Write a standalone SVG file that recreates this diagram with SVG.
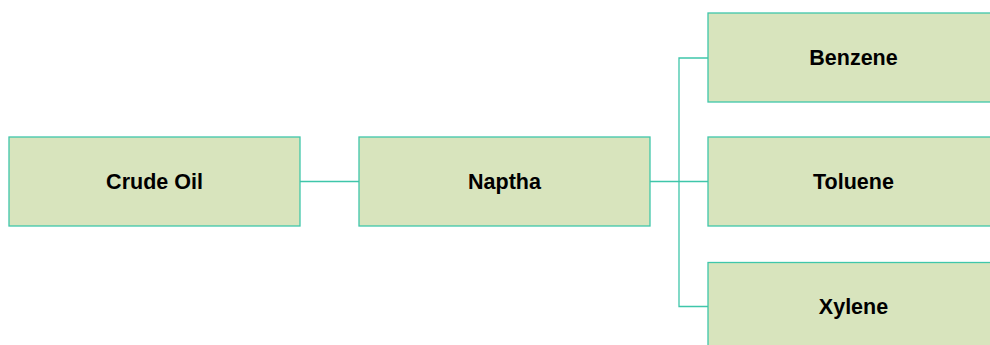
<svg xmlns="http://www.w3.org/2000/svg" width="990" height="345" viewBox="0 0 990 345">
<style>
.box{fill:#d8e4bd;stroke:#3fc6aa;stroke-width:1.3}
.lbl{font-family:"Liberation Sans",Arial,sans-serif;font-weight:bold;font-size:21.5px;fill:#000;text-anchor:middle}
.conn{fill:none;stroke:#3fc6aa;stroke-width:1.3}
</style>
<rect width="990" height="345" fill="#fff"/>
<g id="connectors">
<line class="conn" x1="300" y1="181.5" x2="359" y2="181.5"/>
<path class="conn" d="M650 181.5 H708 M679 181.5 V58 H708 M679 181.5 V306.5 H708"/>
</g>
<g id="crude"><rect class="box" x="9" y="137" width="291" height="89"/><text class="lbl" x="154.5" y="189">Crude Oil</text></g>
<g id="naptha"><rect class="box" x="359" y="137" width="291" height="89"/><text class="lbl" x="504.5" y="189">Naptha</text></g>
<g id="benzene"><rect class="box" x="708" y="13" width="291" height="89"/><text class="lbl" x="853.5" y="65">Benzene</text></g>
<g id="toluene"><rect class="box" x="708" y="137" width="291" height="89"/><text class="lbl" x="853.5" y="189">Toluene</text></g>
<g id="xylene"><rect class="box" x="708" y="262.5" width="291" height="89"/><text class="lbl" x="853.5" y="314">Xylene</text></g>
</svg>
